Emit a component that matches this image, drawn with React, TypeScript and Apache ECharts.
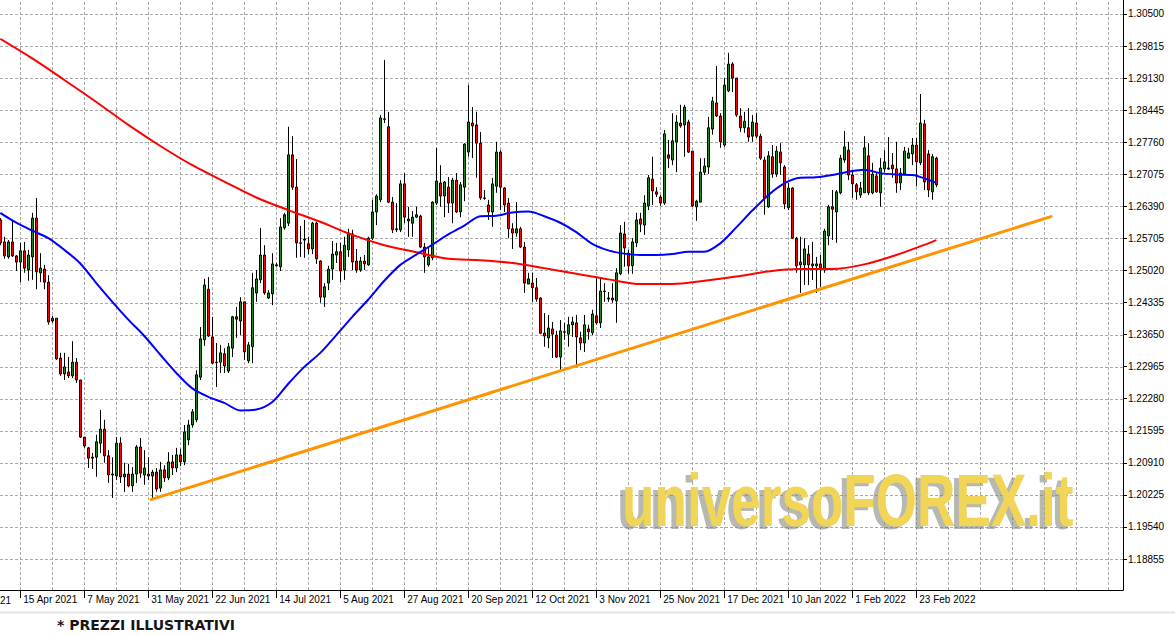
import React, { useEffect, useRef } from "react";
import * as echarts from "echarts";

// ---- data (daily candles, prices) ----
const OPEN = [
  1.2610, 1.2563, 1.2531, 1.2563, 1.2533, 1.2520, 1.2544, 1.2503, 1.2531, 1.2614,
  1.2497, 1.2505, 1.2477, 1.2394, 1.2400, 1.2315, 1.2281, 1.2285, 1.2277, 1.2306,
  1.2268, 1.2146, 1.2123, 1.2101, 1.2103, 1.2133, 1.2163, 1.2106, 1.2065, 1.2063,
  1.2133, 1.2061, 1.2067, 1.2042, 1.2067, 1.2125, 1.2065, 1.2067, 1.2063, 1.2071,
  1.2037, 1.2076, 1.2059, 1.2093, 1.2080, 1.2108, 1.2093, 1.2140, 1.2172, 1.2183,
  1.2274, 1.2354, 1.2462, 1.2360, 1.2306, 1.2306, 1.2324, 1.2287, 1.2336, 1.2403,
  1.2394, 1.2435, 1.2309, 1.2339, 1.2454, 1.2482, 1.2535, 1.2443, 1.2452, 1.2512,
  1.2510, 1.2593, 1.2603, 1.2749, 1.2680, 1.2561, 1.2567, 1.2559, 1.2548, 1.2603,
  1.2522, 1.2445, 1.2475, 1.2505, 1.2535, 1.2542, 1.2503, 1.2546, 1.2580, 1.2522,
  1.2503, 1.2522, 1.2514, 1.2571, 1.2627, 1.2653, 1.2826, 1.2809, 1.2648, 1.2589,
  1.2589, 1.2687, 1.2612, 1.2603, 1.2616, 1.2618, 1.2552, 1.2514, 1.2529, 1.2646,
  1.2689, 1.2661, 1.2680, 1.2646, 1.2695, 1.2627, 1.2680, 1.2755, 1.2817, 1.2813,
  1.2774, 1.2657, 1.2642, 1.2627, 1.2682, 1.2755, 1.2678, 1.2646, 1.2591, 1.2582,
  1.2591, 1.2552, 1.2473, 1.2475, 1.2465, 1.2443, 1.2368, 1.2358, 1.2377, 1.2364,
  1.2317, 1.2371, 1.2366, 1.2386, 1.2390, 1.2358, 1.2347, 1.2377, 1.2369, 1.2405,
  1.2390, 1.2458, 1.2441, 1.2443, 1.2437, 1.2495, 1.2580, 1.2539, 1.2512, 1.2561,
  1.2612, 1.2599, 1.2640, 1.2697, 1.2670, 1.2659, 1.2646, 1.2749, 1.2738, 1.2777,
  1.2817, 1.2813, 1.2819, 1.2757, 1.2638, 1.2648, 1.2712, 1.2723, 1.2804, 1.2860,
  1.2832, 1.2770, 1.2886, 1.2943, 1.2913, 1.2832, 1.2807, 1.2807, 1.2789, 1.2817,
  1.2789, 1.2738, 1.2638, 1.2745, 1.2708, 1.2755, 1.2723, 1.2636, 1.2678, 1.2571,
  1.2514, 1.2514, 1.2537, 1.2512, 1.2512, 1.2516, 1.2503, 1.2576, 1.2638, 1.2627,
  1.2668, 1.2738, 1.2759, 1.2706, 1.2685, 1.2663, 1.2668, 1.2747, 1.2668, 1.2704,
  1.2668, 1.2719, 1.2719, 1.2727, 1.2719, 1.2689, 1.2708, 1.2742, 1.2751, 1.2770,
  1.2732, 1.2815, 1.2751, 1.2670, 1.2742,
];
const CLOSE = [
  1.2561, 1.2533, 1.2563, 1.2533, 1.2520, 1.2544, 1.2507, 1.2535, 1.2614, 1.2499,
  1.2507, 1.2477, 1.2392, 1.2400, 1.2313, 1.2281, 1.2296, 1.2277, 1.2306, 1.2268,
  1.2146, 1.2127, 1.2101, 1.2103, 1.2136, 1.2163, 1.2106, 1.2065, 1.2067, 1.2133,
  1.2061, 1.2067, 1.2042, 1.2067, 1.2125, 1.2069, 1.2080, 1.2063, 1.2071, 1.2035,
  1.2076, 1.2059, 1.2093, 1.2080, 1.2108, 1.2093, 1.2157, 1.2172, 1.2200, 1.2279,
  1.2356, 1.2471, 1.2362, 1.2304, 1.2305, 1.2326, 1.2298, 1.2339, 1.2403, 1.2398,
  1.2435, 1.2328, 1.2343, 1.2465, 1.2484, 1.2535, 1.2454, 1.2454, 1.2516, 1.2514,
  1.2595, 1.2621, 1.2749, 1.2680, 1.2561, 1.2560, 1.2569, 1.2548, 1.2603, 1.2527,
  1.2445, 1.2467, 1.2505, 1.2537, 1.2542, 1.2501, 1.2556, 1.2582, 1.2520, 1.2503,
  1.2522, 1.2516, 1.2571, 1.2627, 1.2661, 1.2828, 1.2825, 1.2648, 1.2589, 1.2591,
  1.2687, 1.2616, 1.2608, 1.2616, 1.2621, 1.2552, 1.2531, 1.2531, 1.2648, 1.2693,
  1.2661, 1.2691, 1.2646, 1.2695, 1.2627, 1.2685, 1.2772, 1.2819, 1.2811, 1.2774,
  1.2657, 1.2656, 1.2627, 1.2687, 1.2755, 1.2680, 1.2642, 1.2591, 1.2582, 1.2591,
  1.2552, 1.2475, 1.2484, 1.2465, 1.2441, 1.2368, 1.2362, 1.2379, 1.2366, 1.2317,
  1.2373, 1.2370, 1.2386, 1.2392, 1.2360, 1.2347, 1.2386, 1.2371, 1.2409, 1.2390,
  1.2458, 1.2457, 1.2443, 1.2439, 1.2497, 1.2582, 1.2550, 1.2512, 1.2563, 1.2610,
  1.2601, 1.2646, 1.2700, 1.2672, 1.2665, 1.2646, 1.2794, 1.2742, 1.2779, 1.2819,
  1.2811, 1.2851, 1.2755, 1.2640, 1.2650, 1.2712, 1.2725, 1.2807, 1.2864, 1.2832,
  1.2777, 1.2898, 1.2943, 1.2913, 1.2834, 1.2807, 1.2821, 1.2787, 1.2819, 1.2789,
  1.2742, 1.2657, 1.2747, 1.2708, 1.2757, 1.2732, 1.2644, 1.2678, 1.2571, 1.2512,
  1.2520, 1.2548, 1.2514, 1.2516, 1.2516, 1.2507, 1.2586, 1.2638, 1.2633, 1.2670,
  1.2742, 1.2766, 1.2706, 1.2687, 1.2670, 1.2678, 1.2764, 1.2668, 1.2708, 1.2670,
  1.2721, 1.2734, 1.2721, 1.2719, 1.2689, 1.2710, 1.2757, 1.2753, 1.2770, 1.2734,
  1.2817, 1.2691, 1.2674, 1.2745, 1.2685,
];
const HIGH = [
  1.2614, 1.2574, 1.2567, 1.2610, 1.2535, 1.2561, 1.2563, 1.2546, 1.2625, 1.2657,
  1.2539, 1.2514, 1.2492, 1.2405, 1.2400, 1.2326, 1.2326, 1.2317, 1.2351, 1.2315,
  1.2268, 1.2146, 1.2125, 1.2112, 1.2151, 1.2204, 1.2183, 1.2118, 1.2103, 1.2146,
  1.2146, 1.2091, 1.2089, 1.2082, 1.2129, 1.2144, 1.2118, 1.2103, 1.2076, 1.2080,
  1.2093, 1.2086, 1.2114, 1.2108, 1.2123, 1.2121, 1.2172, 1.2183, 1.2206, 1.2289,
  1.2381, 1.2484, 1.2488, 1.2403, 1.2347, 1.2343, 1.2336, 1.2347, 1.2405, 1.2424,
  1.2445, 1.2435, 1.2349, 1.2497, 1.2503, 1.2593, 1.2556, 1.2460, 1.2539, 1.2518,
  1.2614, 1.2625, 1.2809, 1.2789, 1.2740, 1.2597, 1.2610, 1.2574, 1.2606, 1.2606,
  1.2524, 1.2475, 1.2512, 1.2565, 1.2561, 1.2561, 1.2574, 1.2591, 1.2589, 1.2548,
  1.2531, 1.2535, 1.2574, 1.2653, 1.2665, 1.2834, 1.2952, 1.2841, 1.2659, 1.2646,
  1.2695, 1.2710, 1.2638, 1.2629, 1.2638, 1.2621, 1.2561, 1.2550, 1.2650, 1.2764,
  1.2727, 1.2693, 1.2702, 1.2700, 1.2710, 1.2691, 1.2774, 1.2898, 1.2851, 1.2841,
  1.2798, 1.2674, 1.2653, 1.2700, 1.2777, 1.2759, 1.2680, 1.2657, 1.2603, 1.2648,
  1.2595, 1.2563, 1.2497, 1.2497, 1.2486, 1.2445, 1.2411, 1.2407, 1.2392, 1.2373,
  1.2396, 1.2390, 1.2403, 1.2403, 1.2407, 1.2371, 1.2407, 1.2386, 1.2418, 1.2486,
  1.2486, 1.2475, 1.2456, 1.2475, 1.2507, 1.2599, 1.2606, 1.2546, 1.2571, 1.2625,
  1.2625, 1.2663, 1.2706, 1.2745, 1.2680, 1.2663, 1.2802, 1.2781, 1.2838, 1.2834,
  1.2856, 1.2856, 1.2824, 1.2757, 1.2653, 1.2742, 1.2742, 1.2830, 1.2873, 1.2939,
  1.2838, 1.2913, 1.2967, 1.2947, 1.2913, 1.2849, 1.2841, 1.2849, 1.2834, 1.2838,
  1.2794, 1.2745, 1.2757, 1.2770, 1.2768, 1.2774, 1.2727, 1.2689, 1.2680, 1.2574,
  1.2574, 1.2571, 1.2556, 1.2563, 1.2531, 1.2535, 1.2591, 1.2642, 1.2674, 1.2674,
  1.2749, 1.2800, 1.2777, 1.2717, 1.2689, 1.2691, 1.2789, 1.2774, 1.2732, 1.2710,
  1.2742, 1.2759, 1.2787, 1.2753, 1.2777, 1.2721, 1.2766, 1.2764, 1.2785, 1.2785,
  1.2879, 1.2824, 1.2759, 1.2751, 1.2745,
];
const LOW = [
  1.2556, 1.2527, 1.2527, 1.2531, 1.2501, 1.2477, 1.2497, 1.2480, 1.2482, 1.2462,
  1.2477, 1.2462, 1.2386, 1.2390, 1.2311, 1.2277, 1.2268, 1.2272, 1.2272, 1.2262,
  1.2144, 1.2123, 1.2080, 1.2078, 1.2061, 1.2112, 1.2091, 1.2048, 1.2016, 1.2054,
  1.2048, 1.2029, 1.2039, 1.2029, 1.2048, 1.2059, 1.2044, 1.2054, 1.2012, 1.2029,
  1.2029, 1.2050, 1.2054, 1.2065, 1.2071, 1.2084, 1.2086, 1.2129, 1.2166, 1.2178,
  1.2268, 1.2341, 1.2360, 1.2302, 1.2253, 1.2283, 1.2283, 1.2283, 1.2317, 1.2358,
  1.2364, 1.2311, 1.2304, 1.2304, 1.2435, 1.2475, 1.2450, 1.2441, 1.2428, 1.2510,
  1.2501, 1.2589, 1.2597, 1.2674, 1.2529, 1.2531, 1.2529, 1.2537, 1.2537, 1.2516,
  1.2433, 1.2424, 1.2460, 1.2482, 1.2518, 1.2477, 1.2482, 1.2531, 1.2503, 1.2497,
  1.2499, 1.2503, 1.2512, 1.2567, 1.2599, 1.2648, 1.2817, 1.2646, 1.2582, 1.2584,
  1.2584, 1.2603, 1.2574, 1.2574, 1.2614, 1.2550, 1.2497, 1.2510, 1.2524, 1.2642,
  1.2638, 1.2616, 1.2625, 1.2603, 1.2625, 1.2616, 1.2650, 1.2745, 1.2742, 1.2700,
  1.2653, 1.2653, 1.2610, 1.2595, 1.2668, 1.2631, 1.2627, 1.2571, 1.2548, 1.2574,
  1.2550, 1.2454, 1.2473, 1.2435, 1.2435, 1.2366, 1.2339, 1.2336, 1.2315, 1.2315,
  1.2289, 1.2354, 1.2339, 1.2360, 1.2300, 1.2332, 1.2328, 1.2354, 1.2364, 1.2386,
  1.2379, 1.2435, 1.2435, 1.2433, 1.2390, 1.2492, 1.2510, 1.2495, 1.2495, 1.2552,
  1.2584, 1.2578, 1.2631, 1.2642, 1.2659, 1.2640, 1.2642, 1.2721, 1.2727, 1.2712,
  1.2807, 1.2745, 1.2753, 1.2638, 1.2608, 1.2648, 1.2706, 1.2708, 1.2792, 1.2830,
  1.2764, 1.2766, 1.2883, 1.2883, 1.2830, 1.2798, 1.2796, 1.2777, 1.2777, 1.2785,
  1.2738, 1.2621, 1.2636, 1.2700, 1.2702, 1.2706, 1.2633, 1.2631, 1.2570, 1.2497,
  1.2454, 1.2471, 1.2471, 1.2482, 1.2454, 1.2467, 1.2497, 1.2556, 1.2567, 1.2561,
  1.2665, 1.2732, 1.2695, 1.2657, 1.2653, 1.2657, 1.2668, 1.2663, 1.2665, 1.2668,
  1.2638, 1.2712, 1.2717, 1.2700, 1.2668, 1.2674, 1.2706, 1.2741, 1.2727, 1.2682,
  1.2727, 1.2674, 1.2659, 1.2653, 1.2680,
];

// slow moving average (red) — bar index / value
const MA_SLOW_BAR = [0, 8, 16, 24, 32, 40, 48, 56, 64, 72, 80, 88, 96, 104, 112, 120, 128, 136, 144, 152, 160, 168, 176, 184, 192, 200, 208, 216, 224, 232, 234];
const MA_SLOW = [1.2997, 1.2955, 1.2909, 1.2862, 1.2813, 1.2768, 1.2727, 1.2692, 1.2658, 1.2631, 1.2606, 1.2578, 1.2556, 1.2541, 1.2527, 1.2524, 1.2518, 1.2507, 1.2495, 1.2483, 1.2473, 1.2473, 1.2480, 1.2489, 1.2500, 1.2505, 1.2505, 1.2515, 1.2535, 1.2560, 1.2567];

// fast moving average (blue)
const MA_FAST_BAR = [0, 4, 8, 12, 16, 20, 24, 28, 32, 36, 40, 44, 48, 52, 56, 60, 64, 68, 72, 76, 80, 84, 88, 92, 96, 100, 104, 108, 112, 116, 120, 124, 128, 132, 136, 140, 144, 148, 152, 156, 160, 164, 168, 172, 176, 180, 184, 188, 192, 196, 200, 204, 208, 212, 216, 220, 224, 228, 232, 234];
const MA_FAST = [1.2625, 1.2604, 1.2587, 1.2571, 1.2546, 1.2517, 1.2475, 1.2435, 1.2397, 1.2362, 1.2322, 1.2283, 1.2250, 1.2232, 1.2219, 1.2203, 1.2205, 1.2221, 1.2260, 1.2296, 1.2326, 1.2364, 1.2403, 1.2440, 1.2480, 1.2514, 1.2536, 1.2557, 1.2579, 1.2598, 1.2618, 1.2619, 1.2626, 1.2628, 1.2618, 1.2604, 1.2584, 1.2559, 1.2545, 1.2538, 1.2535, 1.2535, 1.2537, 1.2542, 1.2542, 1.2560, 1.2594, 1.2630, 1.2663, 1.2688, 1.2700, 1.2701, 1.2706, 1.2713, 1.2717, 1.2710, 1.2707, 1.2706, 1.2696, 1.2689];

// trend line (orange)
const TREND_BAR = [37.4, 263];
const TREND = [1.2012, 1.2618];

// axis ticks
const DATE_LABEL_BAR = [5, 21, 37, 53, 69, 85, 101, 117, 133, 149, 165, 181, 197, 213, 229];
const DATE_LABELS = ["15 Apr 2021", "7 May 2021", "31 May 2021", "22 Jun 2021", "14 Jul 2021", "5 Aug 2021", "27 Aug 2021", "20 Sep 2021", "12 Oct 2021", "3 Nov 2021", "25 Nov 2021", "17 Dec 2021", "10 Jan 2022", "1 Feb 2022", "23 Feb 2022"];
const CUT_LABEL_TAIL = "21"; // visible tail of the previous, clipped date label
const GRID_BAR = [5, 13, 21, 29, 37, 45, 53, 61, 69, 77, 85, 93, 101, 109, 117, 125, 133, 141, 149, 157, 165, 173, 181, 189, 197, 205, 213, 221, 229, 237, 245, 253, 261, 269, 277];
const PRICE_TICKS = [1.18855, 1.1954, 1.20225, 1.2091, 1.21595, 1.2228, 1.22965, 1.2365, 1.24335, 1.2502, 1.25705, 1.2639, 1.27075, 1.2776, 1.28445, 1.2913, 1.29815, 1.305];

const X_MIN = -0.075;
const X_MAX = 280.675;
const Y_MIN = 1.18193;
const Y_MAX = 1.30799;

const LABEL_FONT = '"Liberation Sans", Arial, sans-serif';
const WM_FONT = '"Liberation Sans", Arial, sans-serif';

export default function App() {
  const ref = useRef<HTMLDivElement>(null);

  useEffect(() => {
    const chart = echarts.init(ref.current as HTMLDivElement, null, { renderer: "svg" });

    const candles = OPEN.map((o, i) => [i, o, CLOSE[i], LOW[i], HIGH[i]]);
    const slow = MA_SLOW_BAR.map((b, i) => [b, MA_SLOW[i]]);
    const fast = MA_FAST_BAR.map((b, i) => [b, MA_FAST[i]]);
    const trend = TREND_BAR.map((b, i) => [b, TREND[i]]);

    const gridStyle = { stroke: "#a9a9a9", lineWidth: 1, lineDash: [3, 2] };

    const wmStyle = (fill: string) => ({
      text: "universoFOREX.it",
      fontFamily: WM_FONT,
      fontSize: 64,
      fontWeight: "bold",
      fill,
      verticalAlign: "middle",
      align: "left",
    });

    const option: any = {
      animation: false,
      backgroundColor: "#ffffff",
      grid: { left: 0, right: 52, top: 0, bottom: 46, containLabel: false },
      xAxis: {
        type: "value",
        min: X_MIN,
        max: X_MAX,
        position: "bottom",
        axisLine: { show: true, onZero: false, lineStyle: { color: "#000", width: 1 } },
        axisTick: { show: true, customValues: DATE_LABEL_BAR, length: 8, inside: false, lineStyle: { color: "#000", width: 1 } },
        axisLabel: {
          show: true,
          customValues: DATE_LABEL_BAR,
          formatter: (v: number) => {
            const k = DATE_LABEL_BAR.findIndex((b) => Math.abs(b - v) < 0.01);
            return k >= 0 ? DATE_LABELS[k] : "";
          },
          align: "left",
          margin: 4,
          padding: [0, 0, 0, 3],
          fontSize: 10,
          fontFamily: LABEL_FONT,
          color: "#000",
        },
        splitLine: { show: false },
      },
      yAxis: {
        type: "value",
        position: "right",
        min: Y_MIN,
        max: Y_MAX,
        axisLine: { show: true, onZero: false, lineStyle: { color: "#000", width: 1 } },
        axisTick: { show: true, customValues: PRICE_TICKS, length: 4, inside: false, lineStyle: { color: "#000", width: 1 } },
        axisLabel: {
          show: true,
          customValues: PRICE_TICKS,
          formatter: (v: number) => v.toFixed(5),
          margin: 5,
          fontSize: 10,
          fontFamily: LABEL_FONT,
          color: "#000",
        },
        splitLine: { show: false },
      },
      series: [
        {
          type: "custom",
          name: "hgrid",
          silent: true,
          z: 1,
          data: PRICE_TICKS.map((p) => [X_MIN, p]),
          renderItem: (_p: any, api: any) => {
            const a = api.coord([X_MIN, api.value(1)]);
            const b = api.coord([X_MAX, api.value(1)]);
            const y = Math.round(a[1]) + 0.5;
            return { type: "line", shape: { x1: a[0], y1: y, x2: b[0], y2: y }, style: gridStyle };
          },
        },
        {
          type: "custom",
          name: "vgrid",
          silent: true,
          z: 1,
          data: GRID_BAR.map((b) => [b, Y_MIN]),
          renderItem: (_p: any, api: any) => {
            const a = api.coord([api.value(0), Y_MIN]);
            const b = api.coord([api.value(0), Y_MAX]);
            const x = Math.round(a[0]) + 0.5;
            return { type: "line", shape: { x1: x, y1: a[1], x2: x, y2: b[1] }, style: gridStyle };
          },
        },
        {
          type: "candlestick",
          name: "price",
          silent: true,
          z: 2,
          data: candles,
          encode: { x: 0, y: [1, 2, 3, 4] },
          barWidth: 2.2,
          itemStyle: {
            color: "#158c15",
            color0: "#ff0000",
            borderColor: "#000000",
            borderColor0: "#000000",
            borderColorDoji: "#000000",
            borderWidth: 1,
          },
        },
        {
          type: "line",
          name: "slow",
          silent: true,
          z: 3,
          data: slow,
          showSymbol: false,
          symbol: "none",
          smooth: 0.3,
          lineStyle: { color: "#ff0000", width: 2 },
        },
        {
          type: "line",
          name: "fast",
          silent: true,
          z: 3,
          data: fast,
          showSymbol: false,
          symbol: "none",
          smooth: 0.3,
          lineStyle: { color: "#0000ff", width: 2 },
        },
        {
          type: "line",
          name: "trend",
          silent: true,
          z: 3,
          data: trend,
          showSymbol: false,
          symbol: "none",
          lineStyle: { color: "#ff9400", width: 3 },
        },
      ],
      graphic: [
        {
          type: "text",
          x: 0,
          y: 600,
          silent: true,
          style: { text: CUT_LABEL_TAIL, fontFamily: LABEL_FONT, fontSize: 10, fill: "#000", verticalAlign: "middle", align: "left" },
        },
        {
          type: "text",
          x: 617,
          y: 503,
          scaleX: 0.83,
          scaleY: 1.17,
          z: 5,
          silent: true,
          style: wmStyle("rgba(125,125,115,0.55)"),
        },
        {
          type: "text",
          x: 622,
          y: 500,
          scaleX: 0.83,
          scaleY: 1.17,
          z: 6,
          silent: true,
          style: wmStyle("#f1d556"),
        },
        {
          type: "line",
          silent: true,
          shape: { x1: 0, y1: 612.5, x2: 1175, y2: 612.5 },
          style: { stroke: "#e3e3e3", lineWidth: 2 },
        },
        {
          type: "text",
          x: 57,
          y: 625,
          silent: true,
          style: {
            text: "* PREZZI ILLUSTRATIVI",
            fontFamily: '"DejaVu Sans", sans-serif',
            fontWeight: "bold",
            fontSize: 14,
            fill: "#161616",
            verticalAlign: "middle",
            align: "left",
          },
        },
      ],
    };

    chart.setOption(option);
    return () => chart.dispose();
  }, []);

  return (
    <div
      ref={ref}
      style={{ position: "fixed", left: 0, top: 0, width: 1175, height: 636, background: "#ffffff" }}
    />
  );
}
